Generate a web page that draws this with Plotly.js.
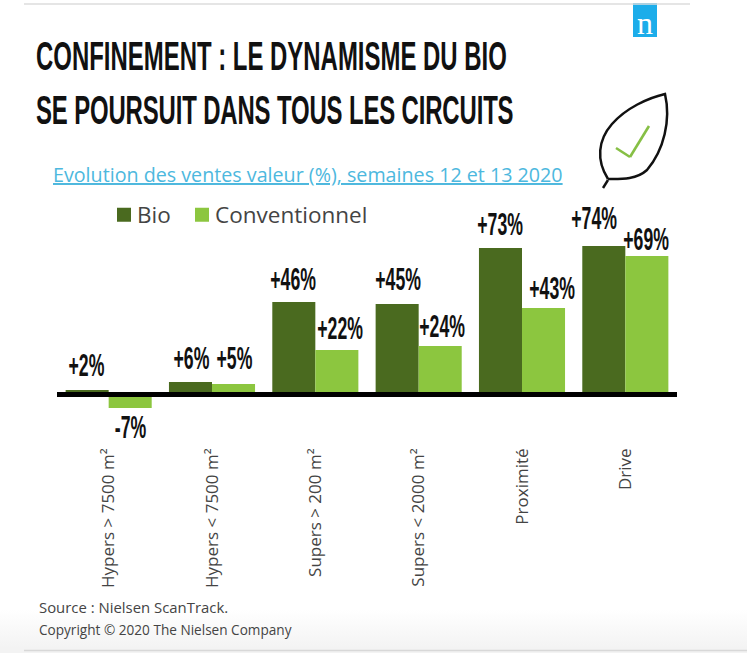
<!DOCTYPE html>
<html><head><meta charset="utf-8">
<script src="https://cdn.plot.ly/plotly-3.0.1.min.js"></script>
<style>
html,body{margin:0;padding:0;width:747px;height:653px;overflow:hidden;background:linear-gradient(to bottom,#fff 0,#fff 610px,#f3f3f3 648px,#f3f3f3 653px)}
</style></head><body><div id="chart" style="width:747px;height:653px"></div>
<script>
const categories=["Hypers > 7500 m²","Hypers < 7500 m²","Supers > 200 m²","Supers < 2000 m²","Proximité","Drive"];
const bioValues=[2,6,46,45,73,74];
const conventionnelValues=[-7,5,22,24,43,69];
const W=747,H=653,L=57,R=70,T=200,B=213;
const px=x=>(x-L)/(W-L-R), py=y=>1-(y-T)/(H-T-B);
const condensed='"Liberation Sans",sans-serif';
const openSans='"Open Sans",sans-serif';
function fmt(v){return (v>0?'+':'')+v+'%';}
// label offsets from the bar top (pixels)
const bioDx=[-22,-21,-22,-21,-22,-31], bioDy=[25,24,23,25,24,28];
const conDx=[22,22,25,23,30,21], conDy=[-19,26,22,20,20,17];
const anns=[];
categories.forEach((c,i)=>{
 anns.push({x:i,y:bioValues[i],xref:'x',yref:'y',text:'<b>'+fmt(bioValues[i])+'</b>',showarrow:false,xshift:bioDx[i],yshift:bioDy[i],font:{family:condensed,size:31,color:'#111'}});
 anns.push({x:i,y:conventionnelValues[i],xref:'x',yref:'y',text:'<b>'+fmt(conventionnelValues[i])+'</b>',showarrow:false,xshift:conDx[i],yshift:conDy[i],font:{family:condensed,size:31,color:'#111'}});
});
function note(x,y,text,size,color,fam){anns.push({xref:'paper',yref:'paper',x:px(x),y:py(y),xanchor:'left',yanchor:'middle',text,showarrow:false,font:{family:fam||openSans,size,color}});}
note(51,174,'<u>Evolution des ventes valeur (%), semaines 12 et 13 2020</u>',19.7,'#4db8de');
note(37,607,'Source : Nielsen ScanTrack.',14.9,'#444');
note(37,629,'Copyright © 2020 The Nielsen Company',13.6,'#444');
anns.push({xref:'paper',yref:'paper',x:px(645),y:py(23),xanchor:'center',yanchor:'middle',text:'n',showarrow:false,font:{family:'"Liberation Serif",serif',size:32,color:'#fff'}});
const line=(x0,y0,x1,y1,color,width)=>({type:'line',xref:'paper',yref:'paper',x0:px(x0),y0:py(y0),x1:px(x1),y1:py(y1),line:{color,width},layer:'above'});
const pt=(x,y)=>px(x)+','+py(y);
const shapes=[
 line(24,4,690,4,'#dcdcdc',1.5),
 line(24,650.5,747,650.5,'#d8d8d8',1.5),
 {type:'rect',xref:'paper',yref:'paper',x0:px(633),x1:px(657),y0:py(3),y1:py(37),fillcolor:'#1cadea',line:{width:0},layer:'below'},
 {type:'line',xref:'paper',yref:'y',x0:0,x1:1,y0:-0.25,y1:-0.25,line:{color:'#000',width:5},layer:'above'},
 {type:'path',xref:'paper',yref:'paper',layer:'above',line:{color:'#111',width:2.5},
  path:'M'+pt(608,179)+' C'+pt(596,160)+' '+pt(598,140)+' '+pt(612,124)+' C'+pt(626,108)+' '+pt(648,98)+' '+pt(665,94)+' C'+pt(671,120)+' '+pt(664,150)+' '+pt(647,170)+' C'+pt(636,180)+' '+pt(620,179)+' '+pt(608,179)},
 line(608,180,603,188,'#111',2.5),
 line(616,148,630,157,'#86bf45',2.6),
 line(630,157,649,126,'#86bf45',2.6)
];
const traces=[
 {type:'bar',name:'Bio',x:categories,y:bioValues,marker:{color:'#4a6a1f'},cliponaxis:false,hoverinfo:'x+y'},
 {type:'bar',name:'Conventionnel',x:categories,y:conventionnelValues,marker:{color:'#8cc63f'},cliponaxis:false,hoverinfo:'x+y'}
];
const layout={
 width:W,height:H,paper_bgcolor:'rgba(0,0,0,0)',plot_bgcolor:'rgba(0,0,0,0)',
 margin:{l:L,r:R,t:T,b:B,pad:0},barmode:'group',bargap:0.167,bargroupgap:0,
 title:{text:'<b>CONFINEMENT : LE DYNAMISME DU BIO</b><br><b>SE POURSUIT DANS TOUS LES CIRCUITS</b>',x:36/W,xanchor:'left',y:1-70/H,yanchor:'middle',font:{family:condensed,size:41,color:'#111'}},
 xaxis:{type:'category',range:[-0.5,5.5],autorange:false,categoryorder:'array',categoryarray:categories,tickangle:-90,showgrid:false,showline:false,zeroline:false,ticks:'',ticklabelstandoff:4,tickfont:{family:openSans,size:17,color:'#444'}},
 yaxis:{range:[-23,97],autorange:false,visible:false,showgrid:false,zeroline:false},
 legend:{orientation:'h',x:px(100),y:py(215),xanchor:'left',yanchor:'middle',font:{family:openSans,size:22.5,color:'#444'},bgcolor:'rgba(0,0,0,0)'},
 showlegend:true,annotations:anns,shapes
};
// squeeze a text horizontally around its anchor (the reference uses a narrow display face)
function squeeze(t,s){const x=+t.getAttribute('x')||0;t.setAttribute('transform','translate('+x+',0) scale('+s+',1) translate('+(-x)+',0)');}
Plotly.newPlot('chart',traces,layout,{displayModeBar:false,staticPlot:true}).then(()=>{
 const tt=document.querySelector('.gtitle');
 const tl=tt.querySelectorAll('tspan.line');
 if(tl[1]){tl[1].setAttribute('dy','54px');tl[1].style.letterSpacing='-0.25px';}
 const w1=tl[0].getComputedTextLength();
 squeeze(tt,471/w1);
 document.querySelectorAll('.annotation-text').forEach(t=>{
  if(/%$/.test(t.textContent)&&t.textContent.length<5) squeeze(t,0.57);
 });
 const targets=[117,195];
 document.querySelectorAll('.legend .traces').forEach((g,i)=>{
  const p=g.querySelector('.legendpoints path');p.setAttribute('d','M7,7H-7V-7H7Z');
  const r=p.getBoundingClientRect();const dx=targets[i]-r.left;
  const m=/translate\(([-\d.]+),\s*([-\d.]+)\)/.exec(g.getAttribute('transform'));
  g.setAttribute('transform','translate('+(+m[1]+dx)+','+m[2]+')');
  const t=g.querySelector('.legendtext');const r2=p.getBoundingClientRect(),r3=t.getBoundingClientRect();
  t.setAttribute('x',+t.getAttribute('x')-(r3.left-r2.right)+6);
 });
});
</script></body></html>
